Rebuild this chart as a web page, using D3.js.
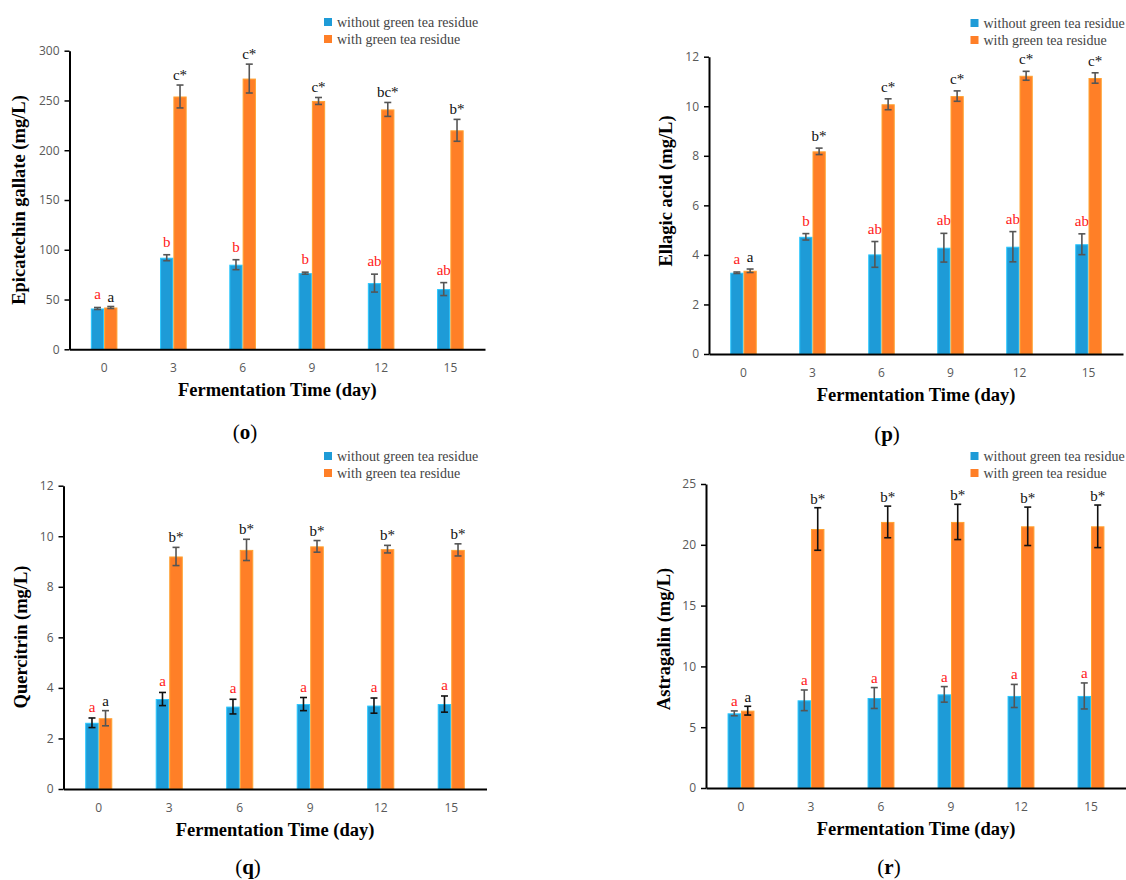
<!DOCTYPE html>
<html><head><meta charset="utf-8">
<script src="https://cdn.jsdelivr.net/npm/d3@7"></script>
<style>body{margin:0;background:#fff}svg{display:block}</style>
</head><body>
<svg id="chart" width="1126" height="880"></svg>
<script>
const days = ["0","3","6","9","12","15"];
const seriesNames = ["without green tea residue","with green tea residue"];
const seriesColors = ["#1E9BD7","#FF7F27"];
const xTitle = "Fermentation Time (day)";

// (o) Epicatechin gallate
const ecgWithout = [41, 92, 85, 76.5, 66.5, 60.5];
const ecgWithoutErr = [1, 3, 5, 1, 9, 6.5];
const ecgWith = [42, 254, 272, 249.5, 241, 220];
const ecgWithErr = [1, 11.5, 14.5, 3.5, 7, 11];
const ecgWithoutLetters = ["a","b","b","b","ab","ab"];
const ecgWithLetters = ["a","c*","c*","c*","bc*","b*"];
const ecgTicks = [0,50,100,150,200,250,300];

// (p) Ellagic acid
const eaWithout = [3.28, 4.73, 4.02, 4.29, 4.33, 4.43];
const eaWithoutErr = [0.03, 0.13, 0.52, 0.58, 0.61, 0.42];
const eaWith = [3.36, 8.18, 10.08, 10.41, 11.23, 11.14];
const eaWithErr = [0.07, 0.13, 0.22, 0.21, 0.18, 0.21];
const eaWithoutLetters = ["a","b","ab","ab","ab","ab"];
const eaWithLetters = ["a","b*","c*","c*","c*","c*"];
const eaTicks = [0,2,4,6,8,10,12];

// (q) Quercitrin
const qWithout = [2.62, 3.56, 3.26, 3.36, 3.30, 3.36];
const qWithoutErr = [0.19, 0.26, 0.29, 0.26, 0.30, 0.32];
const qWith = [2.80, 9.20, 9.46, 9.60, 9.49, 9.46];
const qWithErr = [0.30, 0.36, 0.42, 0.23, 0.15, 0.24];
const qWithoutLetters = ["a","a","a","a","a","a"];
const qWithLetters = ["a","b*","b*","b*","b*","b*"];
const qTicks = [0,2,4,6,8,10,12];

// (r) Astragalin
const aWithout = [6.14, 7.21, 7.40, 7.70, 7.57, 7.57];
const aWithoutErr = [0.2, 0.85, 0.86, 0.64, 0.95, 1.07];
const aWith = [6.36, 21.30, 21.88, 21.88, 21.52, 21.52];
const aWithErr = [0.36, 1.75, 1.30, 1.45, 1.58, 1.75];
const aWithoutLetters = ["a","a","a","a","a","a"];
const aWithLetters = ["a","b*","b*","b*","b*","b*"];
const aTicks = [0,5,10,15,20,25];

const svg = d3.select("#chart");
const SERIF = "'Liberation Serif','Times New Roman',serif";
const SANS = "'Open Sans','Liberation Sans',sans-serif";

const panels = [
  {yTitle:"Epicatechin gallate (mg/L)", label:"o", ticks:ecgTicks, ymax:300,
   vals:[ecgWithout, ecgWith], errs:[ecgWithoutErr, ecgWithErr], letters:[ecgWithoutLetters, ecgWithLetters],
   left:69.5, right:485, top:50.7, bottom:349.3, titleX:25, titleY:200,
   legX:324, legY:18, labX:245, labY:439, errCol:["#555","#555"], off:[8,5]},
  {yTitle:"Ellagic acid (mg/L)", label:"p", ticks:eaTicks, ymax:12,
   vals:[eaWithout, eaWith], errs:[eaWithoutErr, eaWithErr], letters:[eaWithoutLetters, eaWithLetters],
   left:709, right:1123, top:56.7, bottom:354, titleX:672, titleY:191,
   legX:970.5, legY:19, labX:887, labY:441, errCol:["#555","#555"], off:[8,7]},
  {yTitle:"Quercitrin (mg/L)", label:"q", ticks:qTicks, ymax:12,
   vals:[qWithout, qWith], errs:[qWithoutErr, qWithErr], letters:[qWithoutLetters, qWithLetters],
   left:63.5, right:486.5, top:485.7, bottom:789, titleX:27, titleY:637,
   legX:324, legY:452, labX:248, labY:874, errCol:["#111","#555"], off:[6,5]},
  {yTitle:"Astragalin (mg/L)", label:"r", ticks:aTicks, ymax:25,
   vals:[aWithout, aWith], errs:[aWithoutErr, aWithErr], letters:[aWithoutLetters, aWithLetters],
   left:706, right:1126, top:484, bottom:788, titleX:670, titleY:639,
   legX:970.5, legY:452, labX:889, labY:874, errCol:["#555","#111"], off:[5,4]}
];

function drawPanel(p) {
  const g = svg.append("g");
  const x0 = d3.scaleBand().domain(days).range([p.left, p.right]).paddingInner(0.616).paddingOuter(0.308);
  const x1 = d3.scaleBand().domain([0,1]).range([0, x0.bandwidth()]);
  const y = d3.scaleLinear().domain([0, p.ymax]).range([p.bottom, p.top]);

  // bars
  [0,1].forEach(si => {
    const data = days.map((d,i) => ({d, v:p.vals[si][i], e:p.errs[si][i], t:p.letters[si][i]}));
    const cx = d => x0(d.d) + x1(si) + x1.bandwidth()/2;
    g.selectAll(null).data(data).join("rect")
      .attr("x", d => x0(d.d) + x1(si) + 0.5)
      .attr("y", d => y(d.v) + 0.5)
      .attr("width", x1.bandwidth() - 1)
      .attr("height", d => y(0) - y(d.v) - 0.5)
      .attr("fill", seriesColors[si])
      .attr("stroke", d3.color(seriesColors[si]).brighter(0.7))
      .attr("stroke-width", 1);
    const eg = g.append("g").attr("stroke", p.errCol[si]).attr("stroke-width", 1.6);
    eg.selectAll(null).data(data).join("line")
      .attr("x1", cx).attr("x2", cx)
      .attr("y1", d => y(d.v - d.e)).attr("y2", d => y(d.v + d.e));
    eg.selectAll(null).data(data).join("line")
      .attr("x1", d => cx(d) - 3.5).attr("x2", d => cx(d) + 3.5)
      .attr("y1", d => y(d.v + d.e)).attr("y2", d => y(d.v + d.e));
    eg.selectAll(null).data(data).join("line")
      .attr("x1", d => cx(d) - 3.5).attr("x2", d => cx(d) + 3.5)
      .attr("y1", d => y(d.v - d.e)).attr("y2", d => y(d.v - d.e));
    g.selectAll(null).data(data).join("text")
      .attr("x", cx)
      .attr("y", d => y(d.v + d.e) - p.off[si])
      .attr("text-anchor", "middle")
      .attr("font-family", SERIF).attr("font-size", 15)
      .attr("fill", si === 0 ? "#FF1A1A" : "#111")
      .text(d => d.t);
  });

  // y axis
  const ya = g.append("g").attr("transform", `translate(${p.left},0)`)
    .call(d3.axisLeft(y).tickValues(p.ticks).tickSize(5).tickSizeOuter(0).tickPadding(5));
  ya.select(".domain").attr("stroke", "#000").attr("stroke-width", 2);
  ya.selectAll(".tick line").attr("stroke", "#000").attr("stroke-width", 1.5);
  ya.selectAll(".tick text").attr("font-family", SANS).attr("font-size", 12).attr("fill", "#595959");

  // x axis
  const xa = g.append("g").attr("transform", `translate(0,${p.bottom})`)
    .call(d3.axisBottom(x0).tickSize(0).tickSizeOuter(0).tickPadding(14));
  xa.select(".domain").attr("stroke", "#000").attr("stroke-width", 2);
  xa.selectAll(".tick text").attr("font-family", SANS).attr("font-size", 12).attr("fill", "#595959");

  // titles
  g.append("text")
    .attr("x", (p.left + p.right) / 2).attr("y", p.bottom + 47)
    .attr("text-anchor", "middle").attr("font-family", SERIF)
    .attr("font-weight", "bold").attr("font-size", 18.5).attr("fill", "#000")
    .text(xTitle);
  g.append("text")
    .attr("transform", `translate(${p.titleX},${p.titleY}) rotate(-90)`)
    .attr("text-anchor", "middle").attr("font-family", SERIF)
    .attr("font-weight", "bold").attr("font-size", 18.5).attr("fill", "#000")
    .text(p.yTitle);

  // legend
  const lg = g.append("g");
  seriesNames.forEach((n, i) => {
    lg.append("rect").attr("x", p.legX).attr("y", p.legY + i * 17)
      .attr("width", 8).attr("height", 8).attr("fill", seriesColors[i]);
    lg.append("text").attr("x", p.legX + 13).attr("y", p.legY + i * 17 + 9)
      .attr("font-family", SERIF).attr("font-size", 14).attr("fill", "#444")
      .text(n);
  });

  // panel label
  const pl = g.append("text").attr("x", p.labX).attr("y", p.labY)
    .attr("text-anchor", "middle").attr("font-family", SERIF).attr("font-size", 21).attr("fill", "#000");
  pl.append("tspan").text("(");
  pl.append("tspan").attr("font-weight", "bold").text(p.label);
  pl.append("tspan").text(")");
}

panels.forEach(drawPanel);
</script>
</body></html>
